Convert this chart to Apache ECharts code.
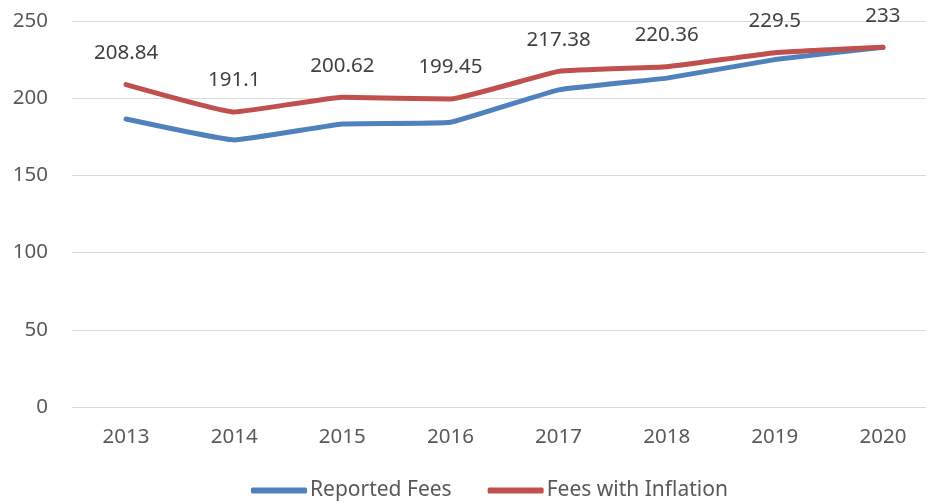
<!DOCTYPE html>
<html>
<head>
<meta charset="utf-8">
<script src="https://cdn.jsdelivr.net/npm/echarts@6/dist/echarts.min.js"></script>
<style>
  html, body { margin: 0; padding: 0; background: #fff; }
  #chart { width: 926px; height: 502px; }
</style>
</head>
<body>
<div id="chart"></div>
<script>
var years = ["2013", "2014", "2015", "2016", "2017", "2018", "2019", "2020"];
var reportedFees = [186.5, 173, 183.3, 184.4, 205.4, 213, 225, 233];
var feesWithInflation = [208.84, 191.1, 200.62, 199.45, 217.38, 220.36, 229.5, 233];
var yTicks = [0, 50, 100, 150, 200, 250];

var myChart = echarts.init(document.getElementById("chart"));
var font = "'Noto Sans', 'Open Sans', sans-serif";

var options = {
  animation: false,
  textStyle: { fontFamily: font },
  // grid runs a little past the right edge, like the original
  grid: { left: 72, width: 865, top: 21, bottom: 95, containLabel: false, outerBoundsMode: "none" },
  legend: {
    bottom: -4,
    left: 246,
    icon: "roundRect",
    itemWidth: 56,
    itemHeight: 6,
    itemGap: 36,
    textStyle: { fontSize: 21, color: "#595959", fontFamily: font, padding: [0, 0, 0, -2] },
    data: ["Reported Fees", "Fees with Inflation"]
  },
  xAxis: {
    type: "category",
    data: years,
    boundaryGap: true,
    axisLine: { show: true, lineStyle: { color: "#d9d9d9", width: 1 } },
    axisTick: { show: false },
    axisLabel: { fontSize: 20.5, color: "#595959", margin: 20 }
  },
  yAxis: {
    type: "value",
    min: yTicks[0],
    max: yTicks[yTicks.length - 1],
    interval: 50,
    axisLine: { show: false },
    axisTick: { show: false },
    splitLine: { lineStyle: { color: "#d9d9d9", width: 1 } },
    axisLabel: { fontSize: 20.5, color: "#595959", margin: 24 }
  },
  series: [
    {
      name: "Reported Fees",
      type: "line",
      data: reportedFees,
      symbol: "none",
      smooth: 0.1,
      lineStyle: { color: "#4f81bd", width: 5, cap: "round", join: "round" },
      itemStyle: { color: "#4f81bd" }
    },
    {
      name: "Fees with Inflation",
      type: "line",
      data: feesWithInflation,
      symbol: "circle",
      symbolSize: 4,
      showSymbol: true,
      smooth: 0.1,
      lineStyle: { color: "#c0504d", width: 5, cap: "round", join: "round" },
      itemStyle: { color: "#c0504d" },
      label: {
        show: true,
        position: "top",
        distance: 19,
        fontSize: 20.5,
        color: "#404040",
        fontFamily: font
      }
    }
  ]
};
myChart.setOption(options);
</script>
</body>
</html>
